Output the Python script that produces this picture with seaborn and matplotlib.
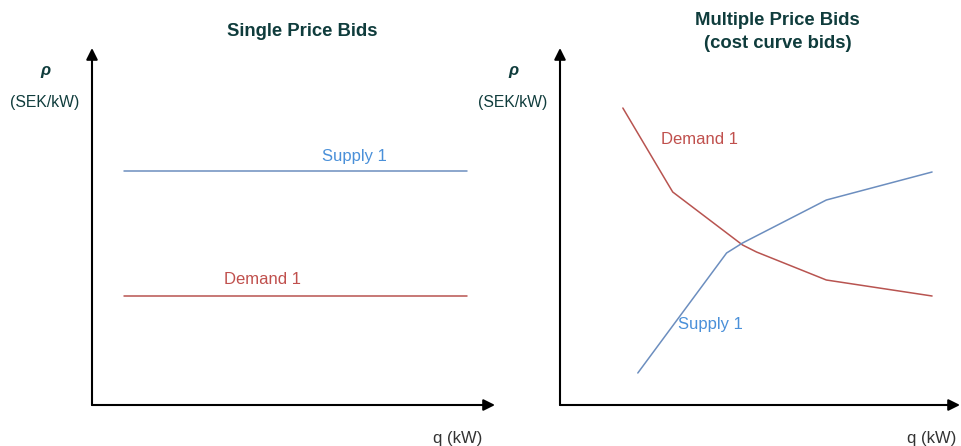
import matplotlib
matplotlib.use("Agg")
import matplotlib.pyplot as plt
import seaborn as sns
import pandas as pd

# ---- data (quantity q, price p in arbitrary drawing units) ----
single_q = [32, 375]
single_supply_p = [234, 234]
single_demand_p = [109, 109]

multi_demand_q = [63, 107, 113, 183, 197, 267, 373]
multi_demand_p = [297, 223, 213, 160, 153, 125, 109]
multi_supply_q = [78, 167, 183, 267, 373]
multi_supply_p = [32, 152, 162, 205, 233]

titles = ["Single Price Bids", "Multiple Price Bids\n(cost curve bids)"]
y_symbol = "ρ"
y_unit = "(SEK/kW)"
x_label = "q (kW)"

sns.set_style("white")
plt.rcParams['font.family'] = ['Liberation Sans', 'DejaVu Sans']

SUP_LINE = "#6c8ebf"
DEM_LINE = "#b85450"
SUP_TXT = "#4a90d9"
DEM_TXT = "#c0504d"
TEAL = "#0f3c3c"

fig = plt.figure(figsize=(9.62, 4.46), dpi=100)
W, H = 962, 446
axL = fig.add_axes([92 / W, 41 / H, 403 / W, 357 / H])
axR = fig.add_axes([560 / W, 41 / H, 402 / W, 357 / H])

def axes_arrows(ax, xtip, ytip):
    ap = dict(arrowstyle="-|>", color="black", lw=1.5, mutation_scale=17,
              shrinkA=0, shrinkB=0)
    ax.annotate("", xy=(xtip, 0), xytext=(0, 0), arrowprops=ap, annotation_clip=False)
    ax.annotate("", xy=(0, ytip), xytext=(0, 0), arrowprops=ap, annotation_clip=False)

def common_text(ax):
    ax.text(-47, 335, y_symbol, ha="center", va="center", fontsize=12,
            fontweight="bold", fontstyle="italic", color=TEAL, clip_on=False)
    ax.text(-47, 302, y_unit, ha="center", va="center", fontsize=11.3,
            color=TEAL, clip_on=False)

# ---- left panel ----
df_ls = pd.DataFrame({"q": single_q, "p": single_supply_p})
df_ld = pd.DataFrame({"q": single_q, "p": single_demand_p})
sns.lineplot(data=df_ls, x="q", y="p", ax=axL, color=SUP_LINE, lw=1.1)
sns.lineplot(data=df_ld, x="q", y="p", ax=axL, color=DEM_LINE, lw=1.1)
axL.set_xlim(0, 403); axL.set_ylim(0, 357); axL.axis("off")
axes_arrows(axL, 403, 357)
common_text(axL)
axL.text(210, 373, titles[0], ha="center", va="center", fontsize=13.3,
         fontweight="bold", color=TEAL, clip_on=False)
axL.text(366, -33, x_label, ha="center", va="center", fontsize=12,
         color="#333333", clip_on=False)
axL.text(262, 249, "Supply 1", ha="center", va="center", fontsize=12,
         color=SUP_TXT)
axL.text(171, 125, "Demand 1", ha="center", va="center", fontsize=12,
         color=DEM_TXT)

# ---- right panel ----
df_rd = pd.DataFrame({"q": multi_demand_q, "p": multi_demand_p})
df_rs = pd.DataFrame({"q": multi_supply_q, "p": multi_supply_p})
sns.lineplot(data=df_rd, x="q", y="p", ax=axR, color=DEM_LINE, lw=1.1, sort=False)
sns.lineplot(data=df_rs, x="q", y="p", ax=axR, color=SUP_LINE, lw=1.1, sort=False)
axR.set_xlim(0, 403); axR.set_ylim(0, 357); axR.axis("off")
axes_arrows(axR, 401, 357)
common_text(axR)
axR.text(218, 373, titles[1], ha="center", va="center", fontsize=13.3,
         fontweight="bold", color=TEAL, clip_on=False, linespacing=1.4)
axR.text(373, -33, x_label, ha="center", va="center", fontsize=12,
         color="#333333", clip_on=False)
axR.text(140, 265, "Demand 1", ha="center", va="center", fontsize=12,
         color=DEM_TXT)
axR.text(151, 81, "Supply 1", ha="center", va="center", fontsize=12,
         color=SUP_TXT)

fig.savefig("out.png", dpi=100, facecolor="white")
